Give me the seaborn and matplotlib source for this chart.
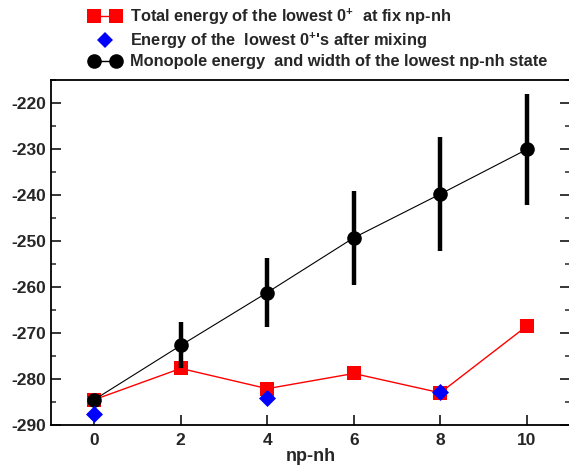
import matplotlib
matplotlib.use("Agg")
import matplotlib.pyplot as plt
import seaborn as sns
import pandas as pd
from matplotlib.lines import Line2D
from matplotlib.legend_handler import HandlerLine2D
from matplotlib.ticker import MultipleLocator

# ---- data ----
npnh = [0, 2, 4, 6, 8, 10]
total_energy = [-284.5, -277.7, -282.1, -278.8, -283.0, -268.5]
mix_x = [0, 4, 8]
mix_energy = [-287.7, -284.1, -282.9]
monopole_energy = [-284.5, -272.7, -261.2, -249.3, -239.8, -230.1]
monopole_width = [0.0, 5.0, 7.5, 10.2, 12.4, 12.0]

labels = [
    r"Total energy of the lowest 0$^{+}$  at fix np-nh",
    r"Energy of the  lowest 0$^{+}$'s after mixing",
    "Monopole energy  and width of the lowest np-nh state",
]

sns.set_style("white")
plt.rcParams["font.family"] = ["Liberation Sans", "DejaVu Sans"]
plt.rcParams["font.weight"] = "bold"
plt.rcParams["axes.unicode_minus"] = False
plt.rcParams["mathtext.fontset"] = "custom"
plt.rcParams["mathtext.rm"] = "Liberation Sans:bold"
plt.rcParams["mathtext.bf"] = "Liberation Sans:bold"
plt.rcParams["mathtext.default"] = "bf"

fig = plt.figure(figsize=(5.69, 4.70), dpi=100)
ax = fig.add_axes([51 / 569, 1 - 425 / 470, (570 - 51) / 569, (425 - 80) / 470])

df_tot = pd.DataFrame({"n": npnh, "e": total_energy})
df_mono = pd.DataFrame({"n": npnh, "e": monopole_energy, "w": monopole_width})
df_mix = pd.DataFrame({"n": mix_x, "e": mix_energy})

sns.lineplot(data=df_tot, x="n", y="e", ax=ax, color="red", linewidth=1,
             marker="s", markersize=9.5, markeredgewidth=0, zorder=2)
ax.errorbar(df_mono["n"], df_mono["e"], yerr=df_mono["w"], fmt="none",
            ecolor="black", elinewidth=3.2, capsize=0, zorder=3)
sns.lineplot(data=df_mono, x="n", y="e", ax=ax, color="black", linewidth=0.8,
             marker="o", markersize=10.5, markeredgewidth=0, zorder=4)
sns.scatterplot(data=df_mix, x="n", y="e", ax=ax, color="blue", marker="D",
                s=75, linewidth=0, zorder=5)

ax.set_xlim(-1, 11)
ax.set_ylim(-290, -215)
ax.xaxis.set_major_locator(MultipleLocator(2))
ax.yaxis.set_major_locator(MultipleLocator(10))
ax.yaxis.set_minor_locator(MultipleLocator(5))
ax.tick_params(axis="both", which="major", direction="in", length=7.5, width=1.1,
               labelsize=12.5, color="black")
ax.tick_params(axis="y", which="both", left=True, right=True)
ax.tick_params(axis="y", which="minor", direction="in", length=3.8, width=1.1)
ax.tick_params(axis="x", which="both", bottom=True, top=False)
ax.tick_params(axis="x", pad=6)
for lab in ax.get_xticklabels() + ax.get_yticklabels():
    lab.set_fontweight("bold")
for sp in ax.spines.values():
    sp.set_linewidth(1.3)
    sp.set_color("black")

ax.set_xlabel("np-nh", fontsize=13, fontweight="bold", labelpad=0)
ax.set_ylabel("")

h1 = Line2D([], [], color="red", linewidth=1, marker="s", markersize=9.5, markeredgewidth=0)
h2 = Line2D([], [], color="blue", linestyle="none", marker="D", markersize=8.5, markeredgewidth=0)
h3 = Line2D([], [], color="black", linewidth=1, marker="o", markersize=10.5, markeredgewidth=0)
fig.legend([h1, h2, h3], labels, loc="upper left", bbox_to_anchor=(0.146, 1.0),
           frameon=False, numpoints=2, handlelength=1.9,
           handletextpad=0.55, labelspacing=0.22, borderaxespad=0,
           handler_map={h2: HandlerLine2D(numpoints=1)},
           prop={"weight": "bold", "size": 11.75})

fig.savefig("out.png", dpi=100)
